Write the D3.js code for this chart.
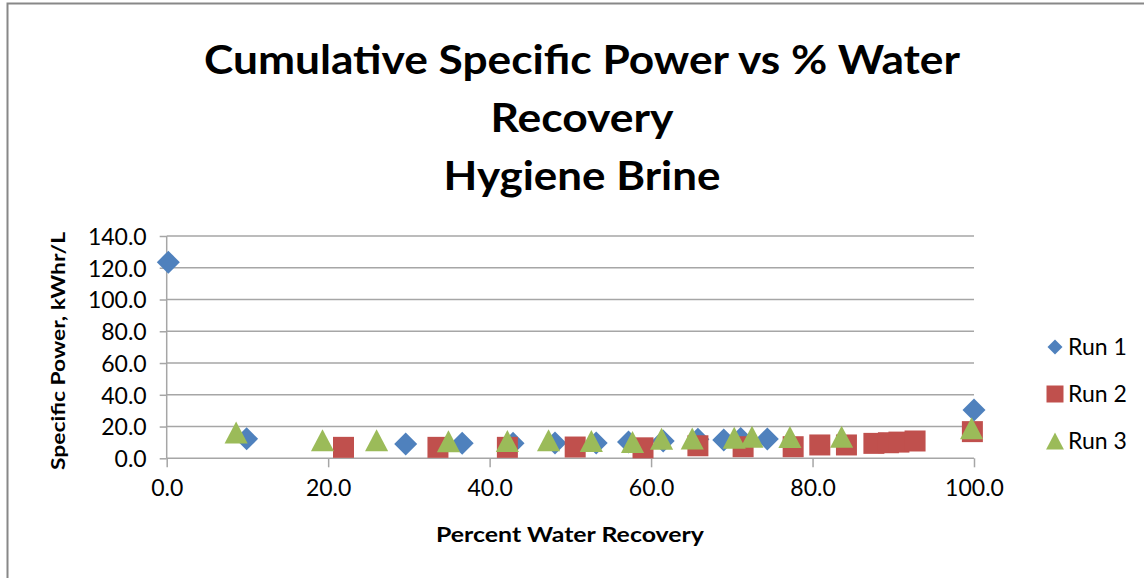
<!DOCTYPE html>
<meta charset="utf-8">
<style>
  body { margin: 0; background: #fff; }
  .grid line { stroke: #a6a6a6; stroke-width: 1.5; }
  .axis path, .axis line { stroke: #a6a6a6; stroke-width: 1.5; }
  .axis text { font-family: Lato, sans-serif; font-size: 23px; fill: #000; }
  .title { font-family: Lato, sans-serif; font-weight: bold; font-size: 40px; fill: #000; }
  .xlabel { font-family: Lato, sans-serif; font-weight: bold; font-size: 21px; }
  .ylabel { font-family: Lato, sans-serif; font-weight: bold; font-size: 19px; }
  .legend text { font-family: Lato, sans-serif; font-size: 23px; }
</style>
<body>
<script src="https://d3js.org/d3.v7.min.js"></script>
<script>

var seriesNames = ["Run 1", "Run 2", "Run 3"];
var seriesColors = ["#4f81bd", "#c0504d", "#9bbb59"];

// percent water recovery / specific power pairs
var run1X = [0.2, 9.9, 29.6, 36.6, 42.9, 48.1, 53.2, 57.2, 61.5, 65.8, 69.0, 71.1, 74.4, 100];
var run1Y = [123.5, 12.3, 9.0, 9.4, 9.4, 9.6, 9.6, 10.2, 10.9, 12.0, 11.5, 12.5, 12.2, 30.4];
var run2X = [21.9, 33.6, 42.2, 50.6, 59.0, 65.8, 71.4, 77.6, 80.9, 84.2, 87.6, 89.4, 90.7, 92.7, 99.8];
var run2Y = [6.9, 6.9, 6.9, 7.1, 6.6, 7.9, 7.3, 7.3, 8.4, 8.4, 9.4, 9.8, 10.2, 10.9, 16.8];
var run3X = [8.6, 19.3, 26.0, 34.9, 42.2, 47.3, 52.6, 57.7, 61.3, 65.1, 70.3, 72.5, 77.2, 83.6, 99.7];
var run3Y = [16.2, 11.3, 11.3, 10.7, 10.9, 11.3, 10.9, 10.3, 12.3, 12.5, 12.9, 13.6, 13.4, 13.6, 18.9];

var xTicks = [0, 20, 40, 60, 80, 100];
var yTicks = [0, 20, 40, 60, 80, 100, 120, 140];

var titleLines = ["Cumulative Specific Power vs % Water", "Recovery", "Hygiene Brine"];
var titleWidths = [756, 183, 277];

var width = 1144, height = 578;

var svg = d3.select("body").append("svg")
  .attr("width", width)
  .attr("height", height);

// chart frame (only the left and top edges are inside the picture)
svg.append("rect")
  .attr("x", 7.5).attr("y", 3.5)
  .attr("width", width + 20).attr("height", height + 20)
  .attr("fill", "#fff")
  .attr("stroke", "#888").attr("stroke-width", 2);

var x = d3.scaleLinear().domain([0, 100]).range([166.7, 974]);
var y = d3.scaleLinear().domain([0, 140]).range([458.3, 236]);

// gridlines
svg.append("g").attr("class", "grid")
  .selectAll("line").data(yTicks.slice(1)).enter().append("line")
  .attr("x1", x(0)).attr("x2", x(100))
  .attr("y1", function (d) { return y(d); })
  .attr("y2", function (d) { return y(d); });

var xAxis = svg.append("g").attr("class", "axis")
  .attr("transform", "translate(0," + y(0) + ")")
  .call(d3.axisBottom(x).tickValues(xTicks).tickSize(9).tickPadding(12).tickFormat(d3.format(".1f")));

var yAxis = svg.append("g").attr("class", "axis")
  .attr("transform", "translate(" + x(0) + ",0)")
  .call(d3.axisLeft(y).tickValues(yTicks).tickSize(7).tickPadding(13).tickFormat(d3.format(".1f")));

xAxis.select(".domain").attr("d", "M" + x(0) + ",0H" + x(100));
yAxis.select(".domain").attr("d", "M0," + y(140) + "V" + y(0));
yAxis.selectAll("text").attr("dy", "0.36em");

// marker shapes, centred on their bounding box
var diamond = {
  draw: function (ctx, size) {
    var r = Math.sqrt(size) / 2;
    ctx.moveTo(0, -r); ctx.lineTo(r, 0); ctx.lineTo(0, r); ctx.lineTo(-r, 0); ctx.closePath();
  }
};
var square = {
  draw: function (ctx, size) {
    var r = Math.sqrt(size) / 2;
    ctx.rect(-r, -r, 2 * r, 2 * r);
  }
};
var triangle = {
  draw: function (ctx, size) {
    var r = Math.sqrt(size) / 2;
    ctx.moveTo(0, -r); ctx.lineTo(r * 1.05, r); ctx.lineTo(-r * 1.05, r); ctx.closePath();
  }
};
var shapes = [diamond, square, triangle];
var sizes = [23 * 23, 21 * 21, 22 * 22];

var runs = [
  d3.zip(run1X, run1Y),
  d3.zip(run2X, run2Y),
  d3.zip(run3X, run3Y)
];

runs.forEach(function (pts, i) {
  svg.append("g")
    .selectAll("path").data(pts).enter().append("path")
    .attr("transform", function (d) { return "translate(" + x(d[0]) + "," + y(d[1]) + ")"; })
    .attr("d", d3.symbol().type(shapes[i]).size(sizes[i]))
    .attr("fill", seriesColors[i]);
});

// title
svg.append("g").selectAll("text").data(titleLines).enter().append("text")
  .attr("class", "title")
  .attr("x", 582)
  .attr("y", function (d, i) { return 74 + i * 58; })
  .attr("text-anchor", "middle")
  .attr("textLength", function (d, i) { return titleWidths[i]; })
  .attr("lengthAdjust", "spacingAndGlyphs")
  .text(function (d) { return d; });

svg.append("text").attr("class", "xlabel")
  .attr("x", 570).attr("y", 542)
  .attr("text-anchor", "middle")
  .attr("textLength", 268)
  .attr("lengthAdjust", "spacingAndGlyphs")
  .text("Percent Water Recovery");

svg.append("text").attr("class", "ylabel")
  .attr("transform", "translate(65,351) rotate(-90)")
  .attr("text-anchor", "middle")
  .attr("textLength", 238)
  .attr("lengthAdjust", "spacingAndGlyphs")
  .text("Specific Power, kWhr/L");

// legend
var legend = svg.append("g").attr("class", "legend");
seriesNames.forEach(function (name, i) {
  var ly = 347 + i * 47;
  legend.append("path")
    .attr("transform", "translate(1055," + ly + ")")
    .attr("d", d3.symbol().type(shapes[i]).size(i === 0 ? 15 * 15 : 17 * 17))
    .attr("fill", seriesColors[i]);
  legend.append("text")
    .attr("x", 1068).attr("y", ly + 8)
    .text(name);
});

</script>
</body>
